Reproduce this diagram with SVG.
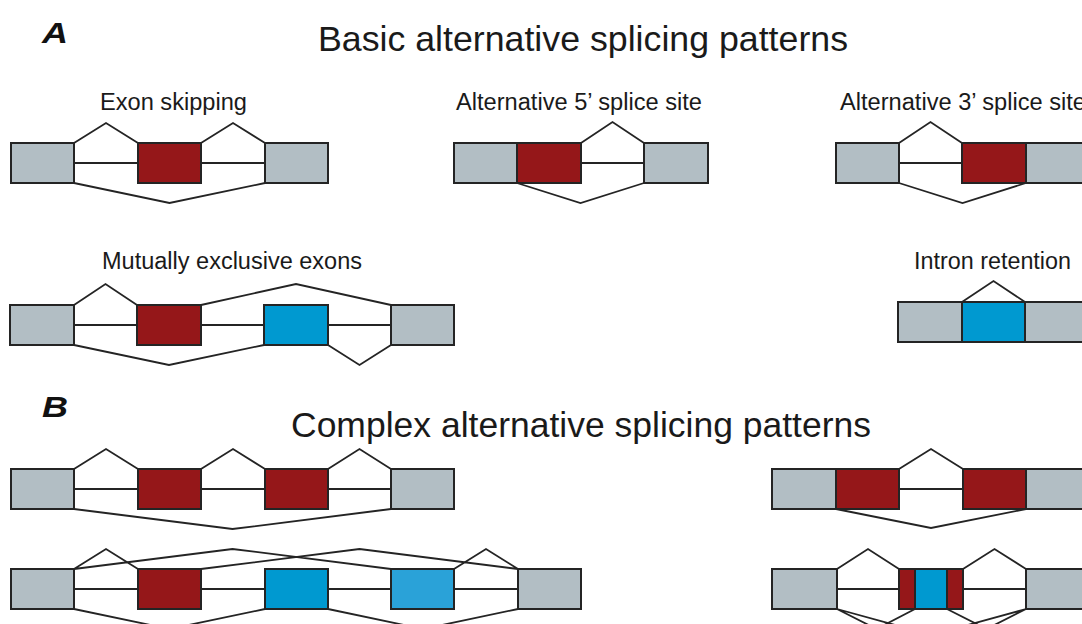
<svg xmlns="http://www.w3.org/2000/svg" width="1082" height="624" viewBox="0 0 1082 624">
  <style>
    .bg { fill: #ffffff; }
    .ex { stroke: #242424; stroke-width: 2; }
    .const { fill: #b2bec4; }
    .alt { fill: #951719; }
    .mx { fill: #0099d0; }
    .mx2 { fill: #2aa2d8; }
    .junc { fill: none; stroke: #242424; stroke-width: 1.8; stroke-linejoin: miter; }
    .lbl { font-family: "Liberation Sans", Arial, sans-serif; font-size: 23px; fill: #1a1a1a; }
    .ttl { font-family: "Liberation Sans", Arial, sans-serif; font-size: 35px; fill: #1a1a1a; }
    .pnl { font-family: "Liberation Sans", Arial, sans-serif; font-size: 29px; font-weight: bold; font-style: italic; fill: #111111; }
  </style>
  <rect class="bg" x="0" y="0" width="1082" height="624"/>

  <!-- headings and labels -->
  <g id="labels">
    <text class="pnl" x="42" y="43" textLength="26" lengthAdjust="spacingAndGlyphs">A</text>
    <text class="ttl" x="318" y="51" textLength="530" lengthAdjust="spacingAndGlyphs">Basic alternative splicing patterns</text>
    <text class="lbl" x="100" y="110" textLength="147" lengthAdjust="spacingAndGlyphs">Exon skipping</text>
    <text class="lbl" x="456" y="110" textLength="246" lengthAdjust="spacingAndGlyphs">Alternative 5’ splice site</text>
    <text class="lbl" x="840" y="110" textLength="246" lengthAdjust="spacingAndGlyphs">Alternative 3’ splice site</text>
    <text class="lbl" x="102" y="269" textLength="260" lengthAdjust="spacingAndGlyphs">Mutually exclusive exons</text>
    <text class="lbl" x="914" y="269" textLength="157" lengthAdjust="spacingAndGlyphs">Intron retention</text>
    <text class="pnl" x="42" y="417" textLength="26" lengthAdjust="spacingAndGlyphs">B</text>
    <text class="ttl" x="291" y="437" textLength="580" lengthAdjust="spacingAndGlyphs">Complex alternative splicing patterns</text>
  </g>

  <!-- splice junctions -->
  <g id="connectors">
    <!-- exon skipping -->
    <path class="junc" d="M74,143 L106,123 L138,143 M201,143 L233,123 L265,143 M74,163 H138 M201,163 H265 M74,183 L169.5,203 L265,183"/>
    <!-- alternative 5' splice site -->
    <path class="junc" d="M581,143 L612.5,122 L644,143 M581,163 H644 M517,183 L580.5,203 L644,183"/>
    <!-- alternative 3' splice site -->
    <path class="junc" d="M899,143 L930.5,122 L962,143 M899,163 H962 M899,183 L962.5,203 L1026,183"/>
    <!-- mutually exclusive exons -->
    <path class="junc" d="M74,305 L105.5,284 L137,305 M201,305 L296,284 L391,305 M74,325 H137 M201,325 H264 M328,325 H391 M74,345 L169,365 L264,345 M328,345 L359.5,365 L391,345"/>
    <!-- intron retention -->
    <path class="junc" d="M962,302 L993.5,281 L1025,302"/>
    <!-- complex 1 -->
    <path class="junc" d="M74,469 L106,449 L138,469 M201,469 L233,449 L265,469 M328,469 L359.5,449 L391,469 M74,489 H138 M201,489 H265 M328,489 H391 M74,509 L232.5,529 L391,509"/>
    <!-- complex 2 -->
    <path class="junc" d="M74,569 L106,549 L138,569 M454,569 L486,549 L518,569 M74,569 L232.5,549 L391,569 M201,569 L359.5,549 L518,569 M74,589 H138 M201,589 H265 M328,589 H391 M454,589 H518 M74,609 L169.5,629 L265,609 M328,609 L423,629 L518,609"/>
    <!-- complex 3 -->
    <path class="junc" d="M899,469 L931,449 L963,469 M899,489 H963 M836,509 L931,528 L1026,509"/>
    <!-- complex 4 -->
    <path class="junc" d="M837,569 L868,549 L899,569 M963,569 L994.5,549 L1026,569 M837,589 H899 M963,589 H1026 M837,609 L876.5,629 L915,609 M947,609 L986.5,629 L1026,609 M837,609 L931.5,635 L1026,609"/>
  </g>

  <!-- exon skipping -->
  <g id="es-exon1"><rect class="ex const" x="11" y="143" width="63" height="40"/></g>
  <g id="es-exon2"><rect class="ex alt" x="138" y="143" width="63" height="40"/></g>
  <g id="es-exon3"><rect class="ex const" x="265" y="143" width="63" height="40"/></g>

  <!-- alternative 5' splice site -->
  <g id="a5-exon1"><rect class="ex const" x="454" y="143" width="63" height="40"/></g>
  <g id="a5-exon2"><rect class="ex alt" x="517" y="143" width="64" height="40"/></g>
  <g id="a5-exon3"><rect class="ex const" x="644" y="143" width="64" height="40"/></g>

  <!-- alternative 3' splice site -->
  <g id="a3-exon1"><rect class="ex const" x="836" y="143" width="63" height="40"/></g>
  <g id="a3-exon2"><rect class="ex alt" x="962" y="143" width="64" height="40"/></g>
  <g id="a3-exon3"><rect class="ex const" x="1026" y="143" width="70" height="40"/></g>

  <!-- mutually exclusive exons -->
  <g id="mx-exon1"><rect class="ex const" x="10" y="305" width="64" height="40"/></g>
  <g id="mx-exon2"><rect class="ex alt" x="137" y="305" width="64" height="40"/></g>
  <g id="mx-exon3"><rect class="ex mx" x="264" y="305" width="64" height="40"/></g>
  <g id="mx-exon4"><rect class="ex const" x="391" y="305" width="63" height="40"/></g>

  <!-- intron retention -->
  <g id="ir-exon1"><rect class="ex const" x="898" y="302" width="64" height="40"/></g>
  <g id="ir-intron"><rect class="ex mx" x="962" y="302" width="63" height="40"/></g>
  <g id="ir-exon2"><rect class="ex const" x="1025" y="302" width="70" height="40"/></g>

  <!-- complex 1: multiple skipped exons -->
  <g id="c1-exon1"><rect class="ex const" x="11" y="469" width="63" height="40"/></g>
  <g id="c1-exon2"><rect class="ex alt" x="138" y="469" width="63" height="40"/></g>
  <g id="c1-exon3"><rect class="ex alt" x="265" y="469" width="63" height="40"/></g>
  <g id="c1-exon4"><rect class="ex const" x="391" y="469" width="63" height="40"/></g>

  <!-- complex 2: three mutually exclusive exons -->
  <g id="c2-exon1"><rect class="ex const" x="11" y="569" width="63" height="40"/></g>
  <g id="c2-exon2"><rect class="ex alt" x="138" y="569" width="63" height="40"/></g>
  <g id="c2-exon3"><rect class="ex mx" x="265" y="569" width="63" height="40"/></g>
  <g id="c2-exon4"><rect class="ex mx2" x="391" y="569" width="63" height="40"/></g>
  <g id="c2-exon5"><rect class="ex const" x="518" y="569" width="63" height="40"/></g>

  <!-- complex 3: two alternative sites -->
  <g id="c3-exon1"><rect class="ex const" x="772" y="469" width="64" height="40"/></g>
  <g id="c3-exon2"><rect class="ex alt" x="836" y="469" width="63" height="40"/></g>
  <g id="c3-exon3"><rect class="ex alt" x="963" y="469" width="63" height="40"/></g>
  <g id="c3-exon4"><rect class="ex const" x="1026" y="469" width="70" height="40"/></g>

  <!-- complex 4: exon with alternative 5' and 3' sites -->
  <g id="c4-exon1"><rect class="ex const" x="772" y="569" width="65" height="40"/></g>
  <g id="c4-exon2a"><rect class="ex alt" x="899" y="569" width="16" height="40"/></g>
  <g id="c4-exon2b"><rect class="ex mx" x="915" y="569" width="32" height="40"/></g>
  <g id="c4-exon2c"><rect class="ex alt" x="947" y="569" width="16" height="40"/></g>
  <g id="c4-exon3"><rect class="ex const" x="1026" y="569" width="70" height="40"/></g>
</svg>
